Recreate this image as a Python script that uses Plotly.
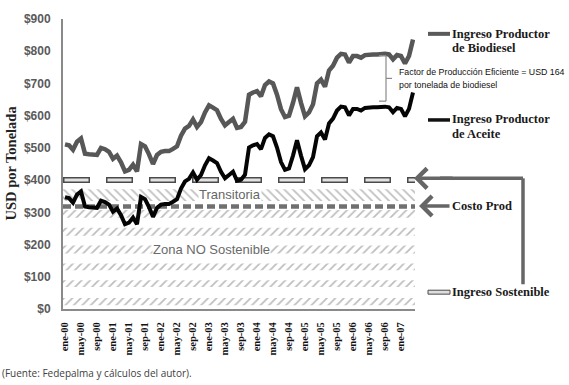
import plotly.graph_objects as go

# ---------------- data ----------------
MONTH_ABBR = ["ene", "feb", "mar", "abr", "may", "jun", "jul", "ago", "sep", "oct", "nov", "dic"]
YEARS = ["00", "01", "02", "03", "04", "05", "06", "07"]
N_MONTHS = 88  # ene-00 .. abr-07
MONTHS = [f"{m}-{y}" for y in YEARS for m in MONTH_ABBR][:N_MONTHS]

TICK_LABELS = ["ene-00", "may-00", "sep-00", "ene-01", "may-01", "sep-01", "ene-02", "may-02",
               "sep-02", "ene-03", "may-03", "sep-03", "ene-04", "may-04", "sep-04", "ene-05",
               "may-05", "sep-05", "ene-06", "may-06", "sep-06", "ene-07"]

BIODIESEL = [511, 508, 494, 519, 529, 482, 480, 479, 478, 500,
             496, 488, 466, 476, 455, 427, 432, 448, 427, 512,
             505, 480, 450, 478, 488, 490, 490, 497, 505, 538,
             560, 568, 588, 565, 580, 610, 632, 625, 617, 590,
             570, 580, 590, 562, 565, 581, 665, 672, 676, 660,
             695, 706, 700, 665, 620, 596, 600, 640, 688, 640,
             598, 610, 635, 700, 712, 690, 740, 755, 780, 792,
             790, 765, 785, 785, 780, 788, 790, 790, 790, 792,
             792, 790, 775, 788, 785, 762, 785, 836]

ACEITE = [347, 344, 330, 355, 365, 318, 316, 315, 314, 336,
          332, 324, 302, 312, 291, 263, 268, 284, 263, 348,
          341, 316, 286, 314, 324, 326, 326, 333, 341, 374,
          396, 404, 424, 401, 416, 446, 468, 461, 453, 426,
          406, 416, 426, 398, 401, 417, 501, 508, 512, 496,
          531, 542, 536, 501, 456, 432, 436, 476, 524, 476,
          434, 446, 471, 536, 548, 526, 576, 591, 616, 628,
          626, 601, 621, 621, 616, 624, 626, 626, 626, 628,
          628, 626, 611, 624, 621, 598, 621, 672]

INGRESO_SOSTENIBLE = 400
COSTO_PROD = 318

# ---------------- style ----------------
SERIF = "Liberation Serif, Times New Roman, serif"
SANS = "Liberation Sans, Arial, sans-serif"
NARROW = "Liberation Sans Narrow, Arial Narrow, Liberation Sans, sans-serif"

W, H = 569, 385
L, R, T, B = 63, 154, 16, 76
PW, PH = W - L - R, H - T - B


def px(x):
    return (x - L) / PW


def py(y):
    return (H - B - y) / PH


x_idx = list(range(len(MONTHS)))
x_span = [-0.5, len(MONTHS) - 0.5]

fig = go.Figure()

# hatch rows (zona no sostenible "/" and transitoria "\")
SLASH_ROWS = [(12, 34), (68, 89), (120, 141), (172, 197), (227, 252), (283, 307)]
BACK_ROWS = [(335, 372)]
for rows, shape in ((SLASH_ROWS, "/"), (BACK_ROWS, "\\")):
    for lo, hi in rows:
        fig.add_trace(go.Scatter(x=x_span, y=[lo, lo], mode="lines", line=dict(width=0),
                                 hoverinfo="skip", showlegend=False))
        fig.add_trace(go.Scatter(x=x_span, y=[hi, hi], mode="lines", line=dict(width=0),
                                 fill="tonexty", fillcolor="white",
                                 fillpattern=dict(shape=shape, size=6, solidity=0.28,
                                                  fgcolor="#7c7c7c", bgcolor="white"),
                                 hoverinfo="skip", showlegend=False))

# Ingreso sostenible (outlined dashes)
fig.add_trace(go.Scatter(x=x_span, y=[INGRESO_SOSTENIBLE] * 2, mode="lines",
                         line=dict(color="#4a4a4a", width=6, dash="27px,16px"),
                         hoverinfo="skip", showlegend=False))
fig.add_trace(go.Scatter(x=x_span, y=[INGRESO_SOSTENIBLE] * 2, mode="lines",
                         line=dict(color="#e2e2e2", width=3, dash="0px,1.5px,24px,17.5px"),
                         hoverinfo="skip", showlegend=False))

# Costo prod
fig.add_trace(go.Scatter(x=x_span, y=[COSTO_PROD] * 2, mode="lines",
                         line=dict(color="#707070", width=4.5, dash="8px,4px"),
                         hoverinfo="skip", showlegend=False))

# data lines
fig.add_trace(go.Scatter(x=x_idx, y=BIODIESEL, mode="lines", name="Ingreso Productor de Biodiesel",
                         line=dict(color="#575757", width=4.5), showlegend=False))
fig.add_trace(go.Scatter(x=x_idx, y=ACEITE, mode="lines", name="Ingreso Productor de Aceite",
                         line=dict(color="#050505", width=4), showlegend=False))

tickvals = [MONTHS.index(t) for t in TICK_LABELS]

fig.update_layout(
    width=W, height=H,
    margin=dict(l=L, r=R, t=T, b=B),
    paper_bgcolor="white", plot_bgcolor="white",
    showlegend=False,
    xaxis=dict(range=x_span, tickmode="array", tickvals=tickvals, ticktext=TICK_LABELS,
               tickangle=-90, showgrid=False, zeroline=False,
               showline=True, linecolor="#8a8a8a", linewidth=2,
               ticks="outside", ticklen=7, tickcolor="rgba(0,0,0,0)",
               tickfont=dict(family=SERIF, size=10.5, color="#111", weight="bold")),
    yaxis=dict(range=[0, 900], dtick=100, tickprefix="$", showgrid=False, zeroline=False,
               showline=True, linecolor="#8a8a8a", linewidth=2,
               ticks="outside", ticklen=8, tickcolor="rgba(0,0,0,0)",
               tickfont=dict(family=SANS, size=12, color="#5a5a5a", weight="bold")),
)

ann = []
# in-plot zone labels
ann.append(dict(x=41.3, y=356, xref="x", yref="y", text="Transitoria", showarrow=False,
                font=dict(family=SANS, size=13, color="#666"), bgcolor="white", borderpad=0))
ann.append(dict(x=36.5, y=184, xref="x", yref="y", text="Zona NO Sostenible", showarrow=False,
                font=dict(family=SANS, size=13, color="#6a6a6a"), bgcolor="white", borderpad=0))

# y axis title
ann.append(dict(x=px(11), y=py(162), xref="paper", yref="paper", text="USD por Tonelada",
                textangle=-90, showarrow=False, xanchor="center", yanchor="middle",
                font=dict(family=SERIF, size=14.5, color="#222", weight="bold")))


def label(xp, yp, text, font):
    ann.append(dict(x=px(xp), y=py(yp), xref="paper", yref="paper", text=text, showarrow=False,
                    xanchor="left", yanchor="middle", font=font, borderpad=0))


lab_font = dict(family=SERIF, size=12.5, color="#1a1a1a", weight="bold")
label(451, 31, "Ingreso Productor", lab_font)
label(451, 45.5, "de Biodiesel", lab_font)
label(451, 117.5, "Ingreso Productor", lab_font)
label(451, 132, "de Aceite", lab_font)
label(451, 205, "Costo Prod", lab_font)
label(451, 292, "Ingreso Sostenible", lab_font)
fac_font = dict(family=NARROW, size=8.8, color="#111")
label(398, 70, "Factor de Producción Eficiente = USD 164", fac_font)
label(398, 83, "por tonelada de biodiesel", fac_font)

# caption
ann.append(dict(x=px(0), y=py(374), xref="paper", yref="paper",
                text="(Fuente: Fedepalma y cálculos del autor).", showarrow=False,
                xanchor="left", yanchor="middle",
                font=dict(family="Open Sans, Noto Sans, sans-serif", size=10, color="#404040")))

# arrows
ann.append(dict(x=px(419), y=py(205), xref="paper", yref="paper", text="", showarrow=True,
                ax=32, ay=0, arrowhead=4, arrowsize=1.1, arrowwidth=3.5, arrowcolor="#666"))
ann.append(dict(x=px(414), y=py(177), xref="paper", yref="paper", text="", showarrow=True,
                ax=40, ay=0, arrowhead=4, arrowsize=1.1, arrowwidth=3.5, arrowcolor="#666"))

fig.update_layout(annotations=ann)

shapes = []


def seg(x0, y0, x1, y1, color, width):
    shapes.append(dict(type="line", xref="paper", yref="paper", x0=px(x0), y0=py(y0),
                       x1=px(x1), y1=py(y1), line=dict(color=color, width=width)))


# big L-shaped arrow line
seg(523, 284, 523, 177, "#666", 3.5)
seg(523, 177, 440, 177, "#666", 3.5)
# legend key lines
seg(428, 31, 450, 31, "#5a5a5a", 4)
seg(428, 118, 450, 118, "#111", 3.5)
shapes.append(dict(type="rect", xref="paper", yref="paper", x0=px(428), x1=px(450),
                   y0=py(294), y1=py(290), fillcolor="#dedede", line=dict(color="#4a4a4a", width=1)))
# bracket for the production factor
bc = "#8a8a8a"
seg(379, 53, 386, 53, bc, 1.2)
seg(386, 53, 386, 99, bc, 1.2)
seg(379, 99, 386, 99, bc, 1.2)
seg(386, 76, 392, 76, bc, 1.2)

fig.update_layout(shapes=shapes)

fig.write_html("out.html", config={"displayModeBar": False},
               post_script="document.body.style.margin='0';")
